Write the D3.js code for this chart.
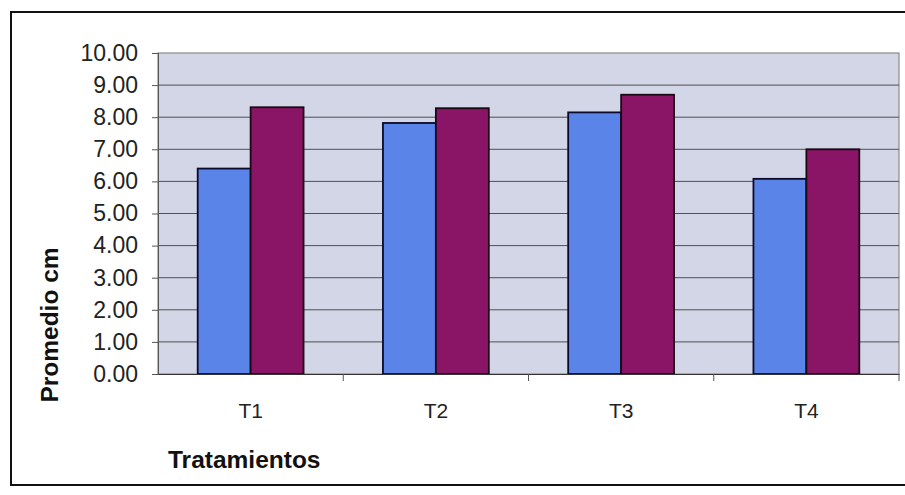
<!DOCTYPE html>
<html><head><meta charset="utf-8">
<script src="https://cdn.jsdelivr.net/npm/d3@7"></script>
<style>body{margin:0;background:#fff}svg{display:block}</style>
</head><body>
<svg id="c" width="905" height="495"></svg>
<script>
const categories = ["T1","T2","T3","T4"];
const seriesA = [6.40, 7.82, 8.15, 6.08];
const seriesB = [8.31, 8.28, 8.70, 7.00];
const yTicks = [0,1,2,3,4,5,6,7,8,9,10];
const yTitle = "Promedio cm";
const xTitle = "Tratamientos";

const svg = d3.select("#c");
const L = 158, R = 899, T = 53, B = 374;

// outer frame (right edge beyond picture)
svg.append("rect").attr("x",11).attr("y",12).attr("width",910).attr("height",473)
  .attr("fill","#fff").attr("stroke","#111").attr("stroke-width",2);

const x = d3.scaleBand().domain(categories).range([L,R]).paddingInner(0).paddingOuter(0);
const y = d3.scaleLinear().domain([0,10]).range([B,T]);

svg.append("rect").attr("x",L).attr("y",T).attr("width",R-L).attr("height",B-T)
  .attr("fill","#d3d6e7").attr("stroke","#8a8a8a").attr("stroke-width",1.2);

// gridlines
svg.append("g").selectAll("line").data(yTicks.filter(d=>d>0 && d<10)).join("line")
  .attr("x1",L).attr("x2",R).attr("y1",d=>y(d)).attr("y2",d=>y(d))
  .attr("stroke","#505050").attr("stroke-width",1);

// bars
const bw = x.bandwidth()/3.5;
const groups = svg.append("g").selectAll("g").data(categories).join("g");
groups.append("rect")
  .attr("x",(d)=>x(d)+x.bandwidth()/2-bw).attr("width",bw)
  .attr("y",(d,i)=>y(seriesA[i])).attr("height",(d,i)=>y(0)-y(seriesA[i]))
  .attr("fill","#5b84e8").attr("stroke","#0a0a2a").attr("stroke-width",1.8);
groups.append("rect")
  .attr("x",(d)=>x(d)+x.bandwidth()/2).attr("width",bw)
  .attr("y",(d,i)=>y(seriesB[i])).attr("height",(d,i)=>y(0)-y(seriesB[i]))
  .attr("fill","#8a1566").attr("stroke","#1a0a14").attr("stroke-width",1.8);

// y axis
const ya = svg.append("g").attr("transform",`translate(${L},0)`)
  .call(d3.axisLeft(y).tickValues(yTicks).tickFormat(d3.format(".2f")).tickSize(6).tickPadding(14));
ya.select(".domain").attr("stroke","#555");
ya.selectAll(".tick line").attr("stroke","#555");
ya.selectAll("text").attr("font-family","Liberation Sans, Arial, sans-serif").attr("font-size",23).attr("fill","#222");

// x axis
const xa = svg.append("g").attr("transform",`translate(0,${B})`)
  .call(d3.axisBottom(x).tickSize(0).tickPadding(29));
xa.select(".domain").attr("stroke","#333").attr("stroke-width",1.2);
xa.selectAll("text").attr("font-family","Liberation Sans, Arial, sans-serif").attr("font-size",21).attr("fill","#222");
svg.append("g").selectAll("line").data(categories.slice(1).concat(["end"])).join("line")
  .attr("x1",d=>d==="end"?R:x(d)).attr("x2",d=>d==="end"?R:x(d))
  .attr("y1",B).attr("y2",B+7).attr("stroke","#555");

// titles
svg.append("text").attr("transform","translate(58,325) rotate(-90)")
  .attr("text-anchor","middle").attr("font-family","Liberation Sans, Arial, sans-serif")
  .attr("font-weight","bold").attr("font-size",24.5).attr("fill","#111").text(yTitle);
svg.append("text").attr("x",168).attr("y",468)
  .attr("font-family","Liberation Sans, Arial, sans-serif")
  .attr("font-weight","bold").attr("font-size",24.5).attr("fill","#111").text(xTitle);
</script>
</body></html>
